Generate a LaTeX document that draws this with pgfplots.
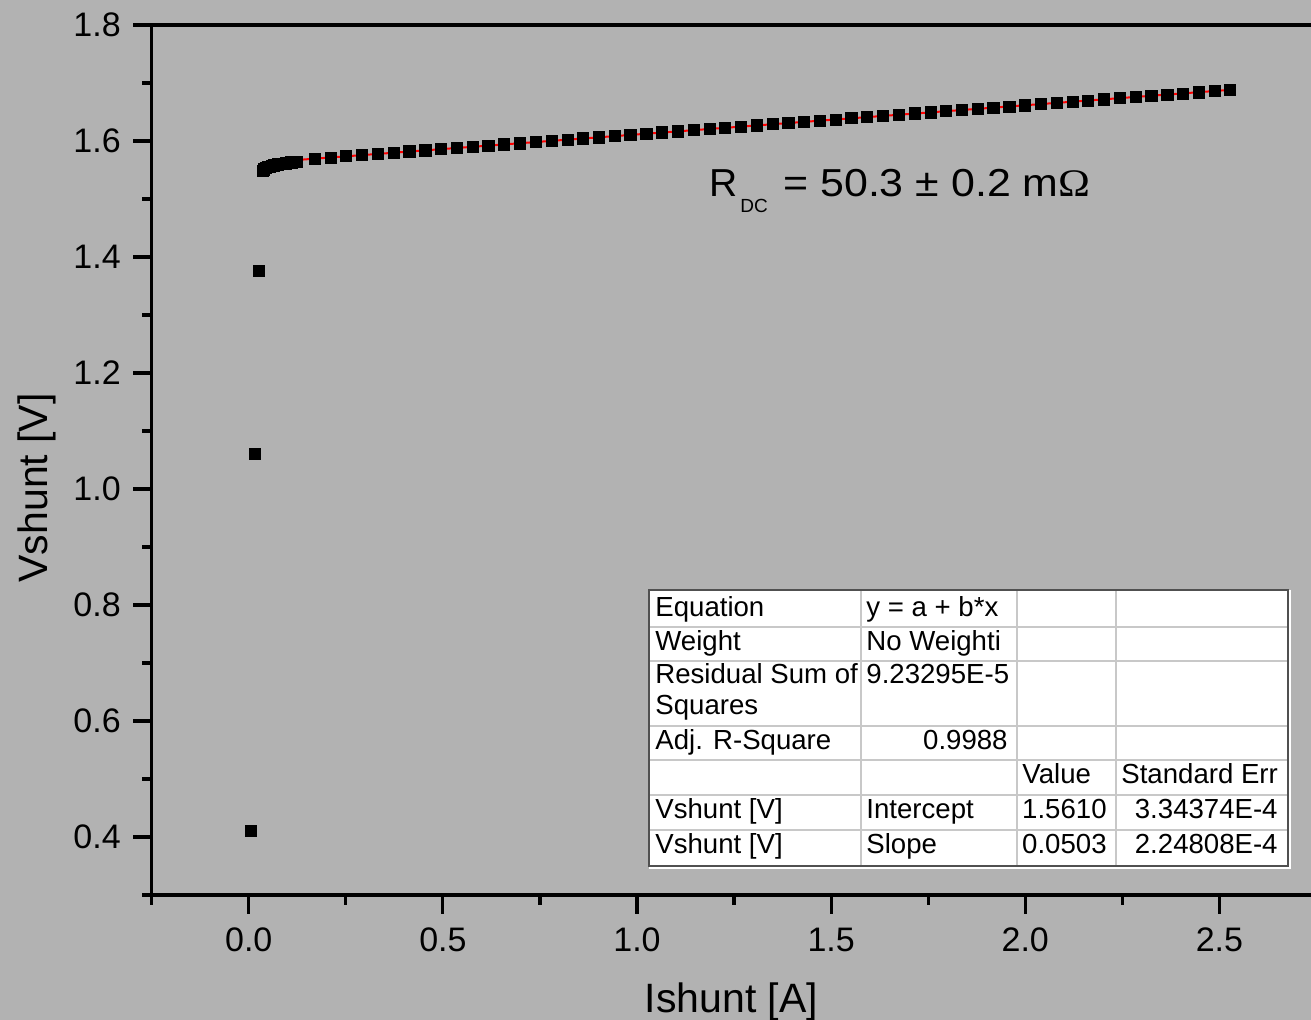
\documentclass[border=0pt]{standalone}
\usepackage{pgfplots}
\pgfplotsset{compat=1.18}
\usepackage{fontspec}
\setmainfont{Liberation Sans}
\newfontfamily\seriffont{Liberation Serif}
\usepackage{graphicx}
\definecolor{bg}{HTML}{B2B2B2}
\definecolor{gridc}{HTML}{C8C8C8}
\definecolor{tframe}{HTML}{505050}
\tikzset{px/.style={shift={(-75.85pt,447.5pt)},x=0.5pt,y=-0.5pt}}
\begin{document}
\begin{tikzpicture}
\begin{scope}[px]
\fill[bg] (0,0) rectangle (1311,1020);
\end{scope}
\begin{axis}[
  at={(0,0)}, anchor=south west,
  scale only axis, width=579.65pt, height=435pt,
  xmin=-0.25, xmax=2.736, ymin=0.3, ymax=1.8,
  axis x line*=box, axis y line*=left,
  axis line style={-, line width=1.6pt, black},
  tick align=outside, tick pos=left,
  xtick={0,0.5,1,1.5,2,2.5}, ytick={0.4,0.6,0.8,1.0,1.2,1.4,1.6,1.8},
  minor xtick={-0.25,0.25,0.75,1.25,1.75,2.25},
  minor ytick={0.3,0.5,0.7,0.9,1.1,1.3,1.5,1.7},
  major tick length=9.3pt, minor tick length=4.8pt,
  every tick/.style={black, line width=1.6pt},
  /pgf/number format/fixed, /pgf/number format/fixed zerofill,
  /pgf/number format/precision=1, /pgf/number format/assume math mode=true,
  tick label style={font=\fontsize{17}{20}\selectfont, inner sep=0pt},
  xticklabel style={yshift=-7pt},
  yticklabel style={xshift=-6pt},
  xlabel={Ishunt [A]}, ylabel={Vshunt [V]},
  every axis x label/.style={at={(axis description cs:0.5,0)}, anchor=base, yshift=-59pt, font=\fontsize{20.5}{24}\selectfont},
  every axis y label/.style={at={(axis description cs:0,0.468)}, xshift=-52.3pt, rotate=90, anchor=base, font=\fontsize{20.5}{24}\selectfont},
  clip=false,
]
\addplot[only marks, mark=square*, mark size=2.8pt, black] coordinates {
(0.005,0.410) (0.015,1.060) (0.026,1.376)
(0.036,1.549) (0.040,1.551) (0.045,1.553) (0.050,1.555) (0.055,1.556)
(0.060,1.557) (0.065,1.558) (0.070,1.559) (0.075,1.5595) (0.080,1.560)
(0.085,1.5605) (0.090,1.561) (0.095,1.5615) (0.100,1.562) (0.105,1.5625)
(0.110,1.563) (0.115,1.5635) (0.120,1.564) (0.125,1.5645)
(0.170,1.5692) (0.211,1.5714) (0.251,1.5736) (0.292,1.5756) (0.333,1.5779)
(0.373,1.5796) (0.414,1.5819) (0.455,1.5837) (0.495,1.5860) (0.536,1.5881)
(0.577,1.5898) (0.617,1.5921) (0.658,1.5942) (0.699,1.5960) (0.739,1.5983)
(0.780,1.6004) (0.821,1.6022) (0.861,1.6044) (0.902,1.6063) (0.943,1.6086)
(0.983,1.6105) (1.024,1.6123) (1.065,1.6147) (1.105,1.6165) (1.146,1.6187)
(1.187,1.6208) (1.227,1.6226) (1.268,1.6249) (1.308,1.6267) (1.349,1.6290)
(1.390,1.6310) (1.430,1.6328) (1.471,1.6351) (1.512,1.6370) (1.552,1.6392)
(1.593,1.6410) (1.634,1.6433) (1.674,1.6451) (1.715,1.6474) (1.756,1.6492)
(1.796,1.6512) (1.837,1.6535) (1.878,1.6553) (1.918,1.6576) (1.959,1.6594)
(2.000,1.6614) (2.040,1.6637) (2.081,1.6655) (2.122,1.6676) (2.162,1.6697)
(2.203,1.6717) (2.244,1.6738) (2.284,1.6757) (2.325,1.6778) (2.366,1.6798)
(2.406,1.6818) (2.447,1.6838) (2.488,1.6858) (2.528,1.6877)
};
\addplot[red, line width=1pt, no marks] coordinates {(0.118,1.5669) (2.528,1.6882)};
\end{axis}
\begin{scope}[px]
% R_DC annotation
\node[anchor=base west, inner sep=0pt, font=\fontsize{19.5}{22}\selectfont] at (709,197) {R};
\node[anchor=base west, inner sep=0pt, font=\fontsize{9.5}{11}\selectfont] at (740,213) {DC};
\node[anchor=base west, inner sep=0pt, font=\fontsize{19.5}{22}\selectfont] at (783,197) {\scalebox{1.1}[1]{= 50.3 ± 0.2 m{\seriffont Ω}}};
% fit table
\fill[white] (649,590) rectangle (1288,866);
\draw[gridc, line width=0.8pt] (861,590) -- (861,866) (1017,590) -- (1017,866) (1116,590) -- (1116,866);
\draw[gridc, line width=0.8pt] (649,627) -- (1288,627) (649,661) -- (1288,661) (649,726) -- (1288,726) (649,760) -- (1288,760) (649,795) -- (1288,795) (649,830) -- (1288,830);
\draw[tframe, line width=1pt] (649,590) rectangle (1288,866);
\draw[white, line width=1.2pt] (1290,590) -- (1290,868) -- (649,868);
\begin{scope}[every node/.style={inner sep=0pt, font=\fontsize{13.8}{16}\selectfont}]
\node[anchor=base west] at (655,617) {Equation};
\node[anchor=base west] at (866,617) {y = a + b*x};
\node[anchor=base west] at (655,651) {Weight};
\node[anchor=base west] at (866,651) {No Weighti};
\node[anchor=base west] at (655,684) {Residual Sum of};
\node[anchor=base west] at (655,715) {Squares};
\node[anchor=base west] at (866,684) {9.23295E-5};
\node[anchor=base west] at (655,750) {Adj. R-Square};
\node[anchor=base east] at (1008,750) {0.9988};
\node[anchor=base west] at (1022,784) {Value};
\node[anchor=base west] at (1121,784) {Standard Err};
\node[anchor=base west] at (655,819) {Vshunt [V]};
\node[anchor=base west] at (866,819) {Intercept};
\node[anchor=base east] at (1107,819) {1.5610};
\node[anchor=base east] at (1278,819) {3.34374E-4};
\node[anchor=base west] at (655,854) {Vshunt [V]};
\node[anchor=base west] at (866,854) {Slope};
\node[anchor=base east] at (1107,854) {0.0503};
\node[anchor=base east] at (1278,854) {2.24808E-4};
\end{scope}
\end{scope}
\pgfresetboundingbox
\useasboundingbox[px] (0,0) rectangle (1311,1020);
\end{tikzpicture}
\end{document}
